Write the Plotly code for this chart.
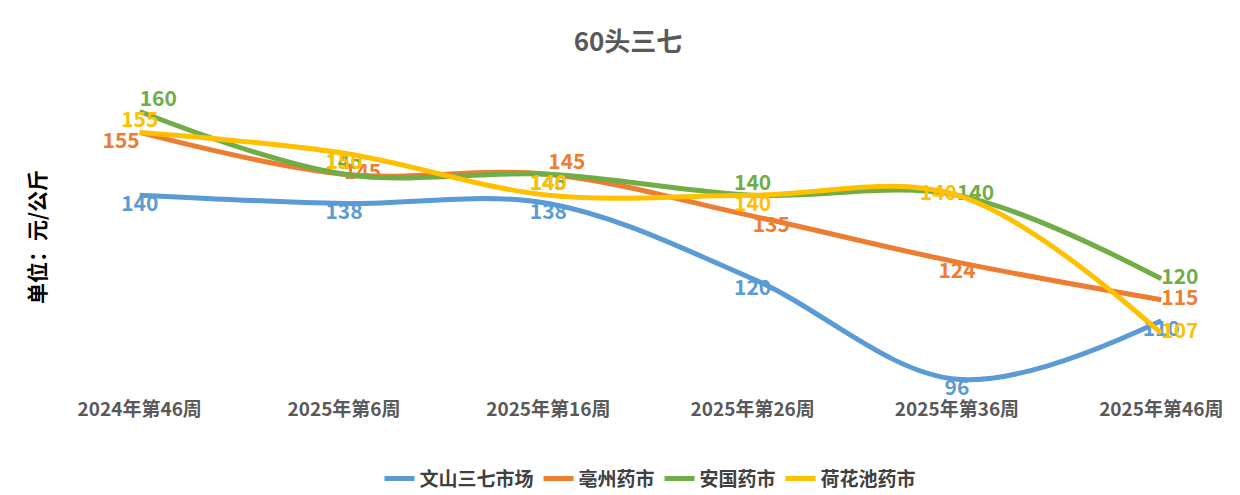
import plotly.graph_objs as go

weeks = ["2024年第46周", "2025年第6周", "2025年第16周", "2025年第26周", "2025年第36周", "2025年第46周"]
wenshan = [140, 138, 138, 120, 96, 110]
bozhou = [155, 145, 145, 135, 124, 115]
anguo = [160, 145, 145, 140, 140, 120]
hehuachi = [155, 150, 140, 140, 140, 107]

series = [
    ("文山三七市场", wenshan, "#5B9BD5", ["bottom center"] * 4 + ["bottom center", "bottom center"]),
    ("亳州药市", bozhou, "#ED7D31", ["bottom left", "middle right", "top right", "bottom right", "bottom center", "middle right"]),
    ("安国药市", anguo, "#70AD47", ["top right", "top center", "bottom center", "top center", "middle right", "middle right"]),
    ("荷花池药市", hehuachi, "#FFC000", ["top center", "bottom center", "top center", "bottom center", "middle left", "middle right"]),
]

fig = go.Figure()
for name, vals, color, pos in series:
    fig.add_trace(go.Scatter(
        x=weeks, y=vals, name=name, mode="lines+text",
        line=dict(color=color, width=5, shape="spline", smoothing=1.0),
        text=["<b>%d</b>" % v for v in vals], textposition=pos,
        textfont=dict(color=color, size=21, family="Noto Sans CJK SC"),
        cliponaxis=False,
    ))

fig.update_layout(
    width=1240, height=495,
    title=dict(text="<b>60头三七</b>", x=0.5, y=0.95, font=dict(size=26, color="#595959")),
    font=dict(family="Noto Sans CJK SC", color="#595959"),
    plot_bgcolor="white", paper_bgcolor="white",
    margin=dict(l=50, r=5, t=70, b=90),
    xaxis=dict(showgrid=False, showline=False, ticks="", tickfont=dict(size=19, color="#595959"),
               tickvals=weeks, ticktext=["<b>%s</b>" % w for w in weeks],
               range=[-0.4, 5.4]),
    yaxis=dict(range=[92, 168], showgrid=False, showticklabels=False, zeroline=False,
               title=dict(text="<b>单位：元/公斤</b>", font=dict(size=21, color="black"), standoff=5)),
    legend=dict(orientation="h", x=0.5, xanchor="center", y=-0.2, font=dict(size=19, color="#404040")),
)
for d in fig.data:
    d.name = "<b>%s</b>" % d.name
fig.write_html("out.html")
